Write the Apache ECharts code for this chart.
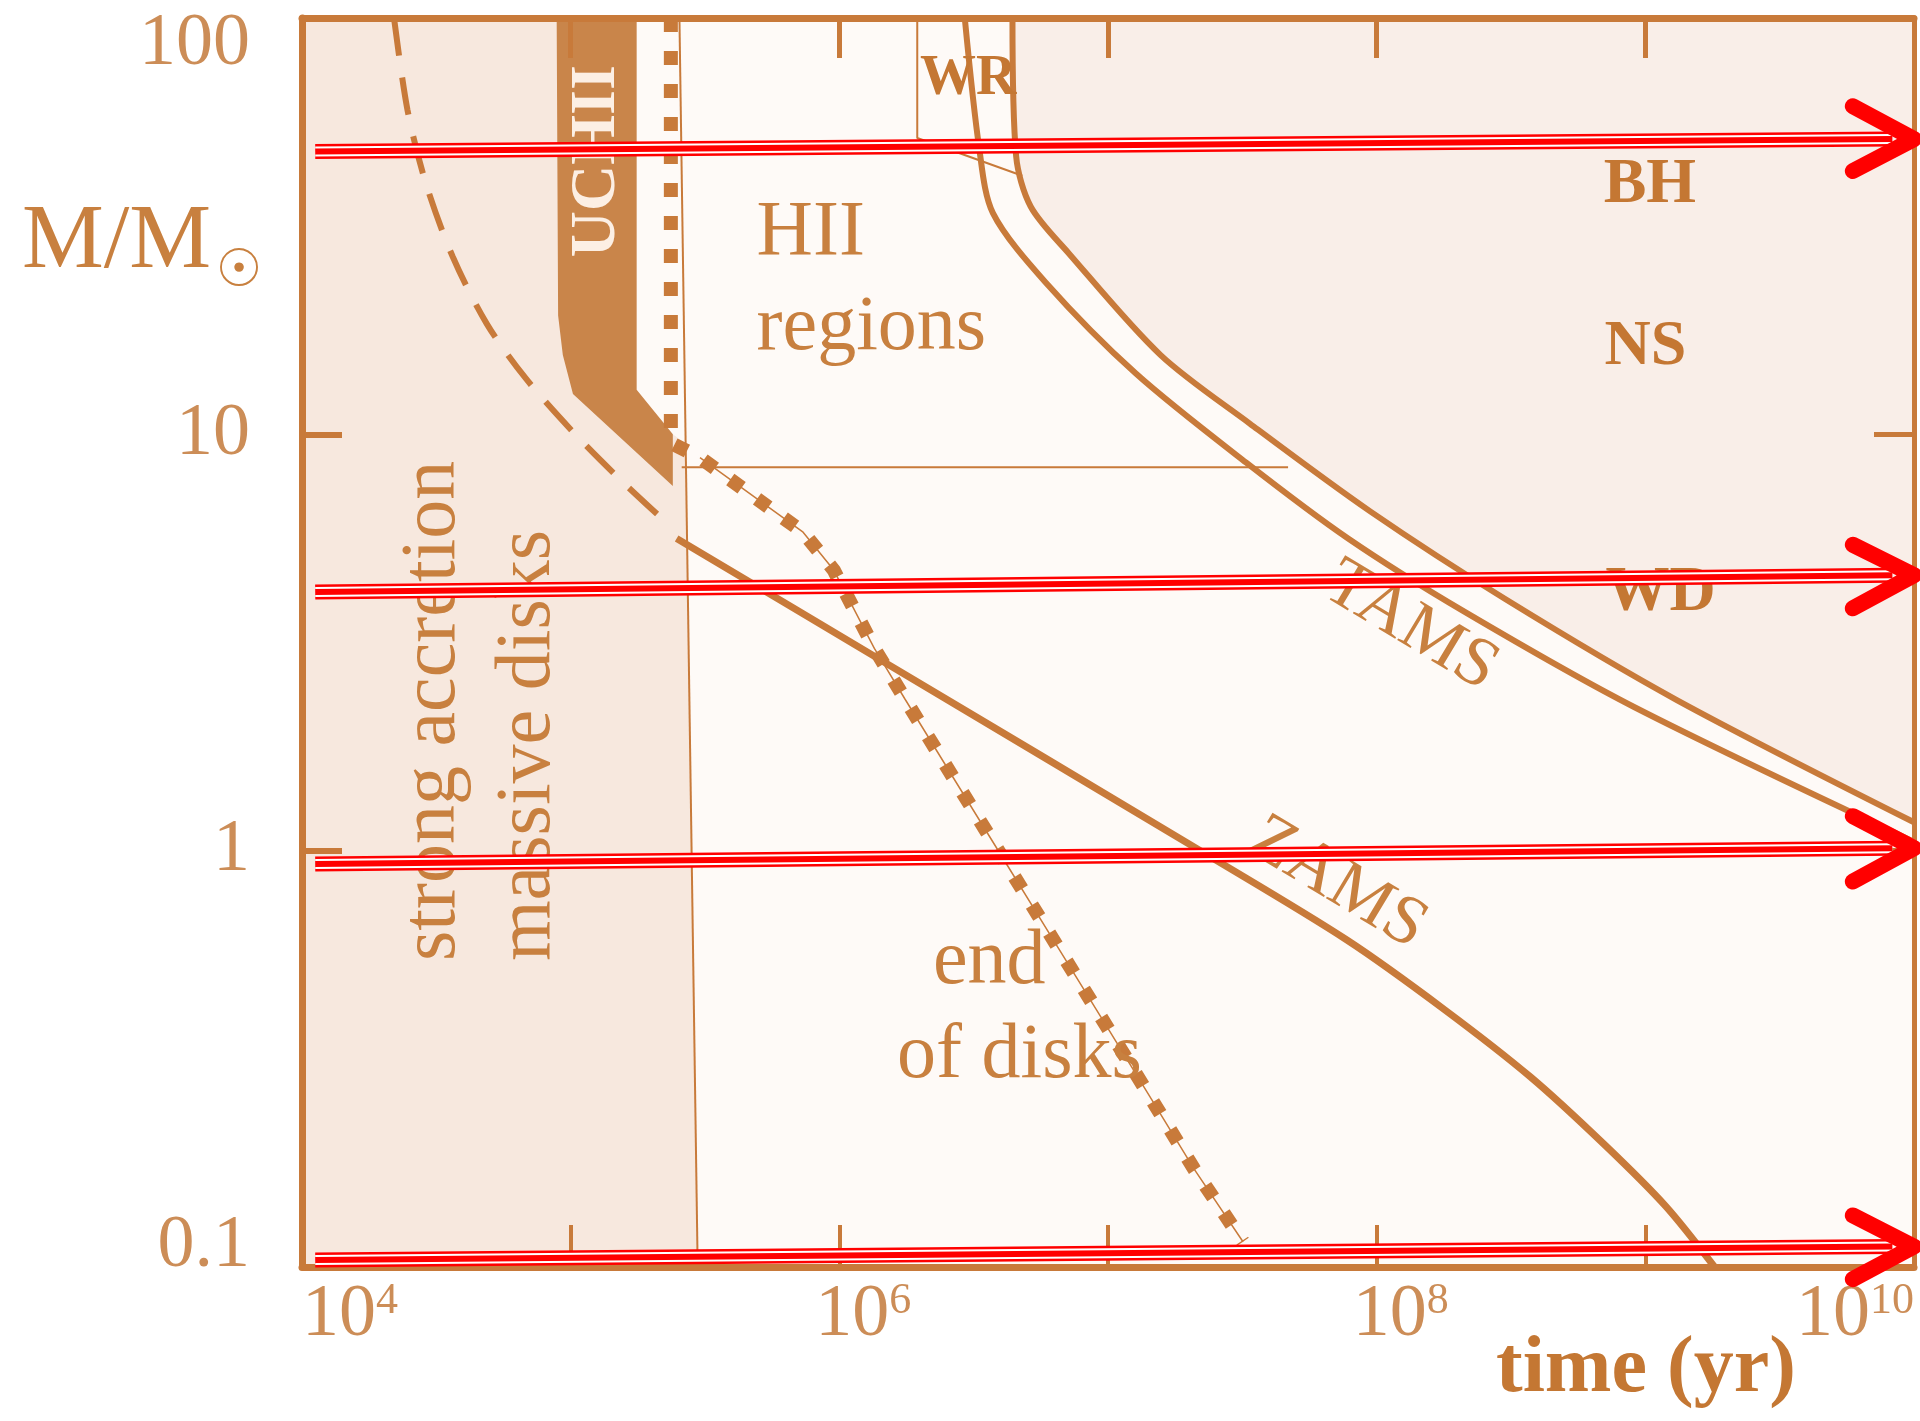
<!DOCTYPE html>
<html lang="en">
<head>
<meta charset="UTF-8">
<title>Star formation time scales</title>
<style>
  html, body { margin: 0; padding: 0; background: #fff; }
  #main { width: 1920px; height: 1421px; }
</style>
</head>
<body>
<div id="main"></div>
<script src="https://cdn.jsdelivr.net/npm/echarts@6/dist/echarts.min.js"></script>
<script>
// tick labels
var yTickLabels = ['0.1', '1', '10', '100'];

// all points are [time (yr), M/Msun]
var accretionDashed = [[2.2e4, 100], [2.47e4, 60.1], [2.89e4, 40.1], [3.64e4, 26.7], [4.88e4, 18.4],
  [6.82e4, 13.6], [1.04e5, 10.0], [1.58e5, 7.63], [2.40e5, 5.94]];
var zams = [[2.48e5, 5.62], [1.44e6, 2.86], [2.32e7, 0.98], [7.75e7, 0.61], [1.79e8, 0.415],
  [3.74e8, 0.286], [7.03e8, 0.197], [1.19e9, 0.14], [1.81e9, 0.1]];
var tamsInner = [[2.93e6, 100], [3.32e6, 48.4], [3.73e6, 34.0], [5.85e6, 23.2], [1.27e7, 14.0],
  [3.27e7, 8.55], [7.83e7, 5.62], [2.12e8, 3.75], [9.12e8, 2.21], [1e10, 1.05]];
var tamsOuter = [[4.41e6, 100], [4.55e6, 46.6], [5.16e6, 35.2], [7.15e6, 27.2], [1.57e7, 15.5],
  [3.38e7, 10.6], [9.46e7, 6.53], [3.03e8, 4.01], [1.31e9, 2.30], [1e10, 1.17]];
var diskEnd = [[2.36e5, 100], [2.36e5, 9.53], [3.03e5, 8.79], [7.33e5, 5.82], [9.53e5, 4.72],
  [1.35e6, 3.06], [1.75e6, 2.32], [2.72e6, 1.46], [4.19e6, 0.929], [6.51e6, 0.586],
  [1.01e7, 0.370], [1.43e7, 0.257], [2.09e7, 0.172], [3.18e7, 0.115]];
var uchiiBand = [[8.87e4, 100], [1.76e5, 100], [1.76e5, 12.8], [2.40e5, 10.0], [2.40e5, 7.51],
  [1.02e5, 12.5], [9.35e4, 15.5], [8.98e4, 19.3]];
var accretionZone = [[1e4, 0.1], [1e4, 100], [1.76e5, 100], [1.76e5, 12.8], [2.40e5, 10.0],
  [2.67e5, 9.5], [2.97e5, 0.1]];
var accretionEdge = [[2.54e5, 100], [2.97e5, 0.1]];
var hiiFloor = [[2.59e5, 8.34], [4.68e7, 8.34]];
var wrEdge = [[1.95e6, 100], [1.95e6, 51.5], [4.80e6, 41.8]];

// red arrows: shaft start, shaft end, head (upper arm, tip, lower arm)
var arrowShafts = [
  [[1.12e4, 47.8], [8.3e9, 51.2]],
  [[1.12e4, 4.18], [8.3e9, 4.59]],
  [[1.12e4, 0.929], [8.3e9, 1.014]],
  [[1.12e4, 0.104], [8.3e9, 0.112]]
];
var arrowHeads = [
  [[5.92e9, 61.4], [1e10, 51.2], [5.92e9, 42.9]],
  [[5.92e9, 5.43], [1e10, 4.59], [5.92e9, 3.82]],
  [[5.92e9, 1.21], [1e10, 1.014], [5.92e9, 0.843]],
  [[5.92e9, 0.133], [1e10, 0.112], [5.92e9, 0.0935]]
];

var notes = [
  { text: 'BH', at: [1.04e9, 39.5], kind: 'bold' },
  { text: 'NS', at: [1.0e9, 16.2], kind: 'bold' },
  { text: 'WD', at: [1.14e9, 4.15], kind: 'bold' },
  { text: 'WR', at: [3.02e6, 71.3], kind: 'wr' },
  { text: 'HII', at: [4.92e5, 30.3], kind: 'left' },
  { text: 'regions', at: [4.92e5, 18.0], kind: 'left' },
  { text: 'end', at: [2.23e6, 0.54], kind: 'left' },
  { text: 'of disks', at: [1.64e6, 0.321], kind: 'left' },
  { text: 'TAMS', at: [1.34e8, 3.45], kind: 'track' },
  { text: 'ZAMS', at: [7.13e7, 0.834], kind: 'track' },
  { text: 'UCHII', at: [1.26e5, 45.3], kind: 'band' },
  { text: 'strong accretion', at: [3.10e4, 0.543], kind: 'up' },
  { text: 'massive disks', at: [6.97e4, 0.543], kind: 'up' }
];

var C = '#c87a3a';
var TXT = '#c8803f';
var LBL = '#cc8d57';
var SERIF = '"Liberation Serif", "DejaVu Serif", serif';

var noteStyles = {
  bold: { size: 64, weight: 'bold', align: 'center', rot: 0, color: '#c47733' },
  wr: { size: 56, weight: 'bold', align: 'center', rot: 0, color: '#c47733' },
  left: { size: 78, weight: 'normal', align: 'left', rot: 0, color: TXT },
  track: { size: 70, weight: 'normal', align: 'center', rot: -31, color: TXT },
  band: { size: 64, weight: 'bold', align: 'center', rot: 90, color: '#fcefe4' },
  up: { size: 78, weight: 'normal', align: 'left', rot: 90, color: TXT }
};

function polygonSeries(points, fill, z) {
  return {
    type: 'custom', z: z, silent: true, clip: false,
    data: points,
    renderItem: function (params, api) {
      if (params.dataIndex !== 0) return null;
      return {
        type: 'polygon',
        shape: { points: points.map(function (p) { return api.coord(p); }) },
        style: { fill: fill }
      };
    }
  };
}

function lineSeries(data, z, lineStyle, smooth) {
  return {
    type: 'line', data: data, z: z, silent: true, clip: false,
    symbol: 'none', smooth: smooth || false,
    lineStyle: lineStyle
  };
}

var series = [
  polygonSeries(accretionZone, '#f7e8de', 1),
  polygonSeries(tamsOuter.concat([[1e10, 100]]), '#f9eee8', 1),
  polygonSeries(uchiiBand, '#c9854a', 2),
  lineSeries(accretionEdge, 3, { color: C, width: 2 }),
  lineSeries(hiiFloor, 3, { color: C, width: 2 }),
  lineSeries(wrEdge, 3, { color: C, width: 2 }),
  lineSeries(accretionDashed, 3, { color: C, width: 6, type: [38, 22], cap: 'butt' }, 0.3),
  lineSeries(zams, 3, { color: C, width: 7 }, 0.3),
  lineSeries(tamsInner, 3, { color: C, width: 6 }, 0.3),
  lineSeries(tamsOuter, 3, { color: C, width: 6 }, 0.3),
  lineSeries(diskEnd.slice(2), 3, { color: C, width: 1.5 }),
  lineSeries(diskEnd, 4, { color: C, width: 14, type: [14, 19], cap: 'butt' }),
  {
    type: 'custom', z: 6, silent: true, clip: false,
    data: notes.map(function (n) { return n.at; }),
    renderItem: function (params, api) {
      var n = notes[params.dataIndex];
      var s = noteStyles[n.kind];
      var p = api.coord(n.at);
      return {
        type: 'text', x: p[0], y: p[1], rotation: s.rot * Math.PI / 180,
        style: {
          text: n.text, fill: s.color, fontSize: s.size, fontFamily: SERIF,
          fontWeight: s.weight, align: s.align, verticalAlign: 'middle'
        }
      };
    }
  }
];

arrowShafts.forEach(function (a) {
  series.push(lineSeries(a, 20, { color: '#ff0000', width: 15, cap: 'butt' }));
  series.push(lineSeries(a, 21, { color: '#ffffff', width: 10, cap: 'butt' }));
  series.push(lineSeries(a, 22, { color: '#ff0000', width: 6, cap: 'butt' }));
});
arrowHeads.forEach(function (a) {
  series.push(lineSeries(a, 23, { color: '#ff0000', width: 16, cap: 'round', join: 'round' }));
});

var xLabel = {
  margin: 12, color: LBL, fontFamily: SERIF, fontSize: 74,
  showMinLabel: true, showMaxLabel: true, hideOverlap: false,
  alignMinLabel: 'left', alignMaxLabel: 'right',
  formatter: function (v) {
    var e = Math.round(Math.log10(v));
    if (e % 2) return '';
    var base = (e === 6 || e === 8) ? '{q|10}' : '{b|10}';
    return base + '{s|' + e + '}';
  },
  rich: {
    b: { fontSize: 74, fontFamily: SERIF, color: LBL },
    q: { fontSize: 74, fontFamily: SERIF, color: LBL, padding: [0, 0, 0, 48] },
    s: { fontSize: 44, fontFamily: SERIF, color: LBL, verticalAlign: 'top' }
  }
};

var option = {
  backgroundColor: '#ffffff',
  animation: false,
  grid: {
    left: 302, right: 6, top: 18, bottom: 154,
    show: true, backgroundColor: '#fefaf7', borderWidth: 0,
    containLabel: false, outerBoundsMode: 'none'
  },
  xAxis: [{
    type: 'log', logBase: 10, min: 1e4, max: 1e10, position: 'bottom', z: 5,
    axisLine: { show: true, onZero: false, lineStyle: { color: C, width: 7 } },
    axisTick: { show: true, inside: true, length: 42, lineStyle: { color: C, width: 4 } },
    splitLine: { show: false },
    axisLabel: xLabel
  }, {
    type: 'log', logBase: 10, min: 1e4, max: 1e10, position: 'top', z: 5,
    axisLine: { show: true, onZero: false, lineStyle: { color: C, width: 7 } },
    axisTick: { show: true, inside: true, length: 40, lineStyle: { color: C, width: 5 } },
    splitLine: { show: false },
    axisLabel: { show: false }
  }],
  yAxis: [{
    type: 'log', logBase: 10, min: 0.1, max: 100, position: 'left', z: 5,
    axisLine: { show: true, onZero: false, lineStyle: { color: C, width: 7 } },
    axisTick: { show: true, inside: true, length: 40, lineStyle: { color: C, width: 6 } },
    splitLine: { show: false },
    axisLabel: {
      margin: 52, color: LBL, fontFamily: SERIF, fontSize: 74, lineHeight: 40,
      showMinLabel: true, showMaxLabel: true, hideOverlap: false,
      verticalAlignMinLabel: 'bottom', verticalAlignMaxLabel: 'top',
      formatter: function (v) {
        var e = Math.round(Math.log10(v));
        var s = yTickLabels[e + 1];
        return e === 2 ? '{t|' + s + '}' : s;
      },
      rich: {
        t: { fontSize: 74, fontFamily: SERIF, color: LBL, lineHeight: 40, padding: [13, 0, 0, 0] }
      }
    }
  }, {
    type: 'log', logBase: 10, min: 0.1, max: 100, position: 'right', z: 5,
    axisLine: { show: true, onZero: false, lineStyle: { color: C, width: 5 } },
    axisTick: { show: true, inside: true, length: 40, lineStyle: { color: C, width: 5 } },
    splitLine: { show: false },
    axisLabel: { show: false }
  }],
  graphic: [
    {
      type: 'text', x: 22, y: 197, silent: true,
      style: { text: 'M/M', fontSize: 92, fontFamily: SERIF, fill: TXT, verticalAlign: 'top' }
    },
    {
      type: 'text', x: 239, y: 272, silent: true,
      style: { text: '\u2609', fontSize: 52, fontFamily: '"DejaVu Sans"', fill: TXT, align: 'center', verticalAlign: 'middle' }
    },
    {
      type: 'text', x: 1496, y: 1370, silent: true,
      style: { text: 'time (yr)', fontSize: 80, fontWeight: 'bold', fontFamily: SERIF, fill: '#c47733', verticalAlign: 'middle' }
    }
  ],
  series: series
};

var myChart = echarts.init(document.getElementById('main'));
myChart.setOption(option);
</script>
</body>
</html>
